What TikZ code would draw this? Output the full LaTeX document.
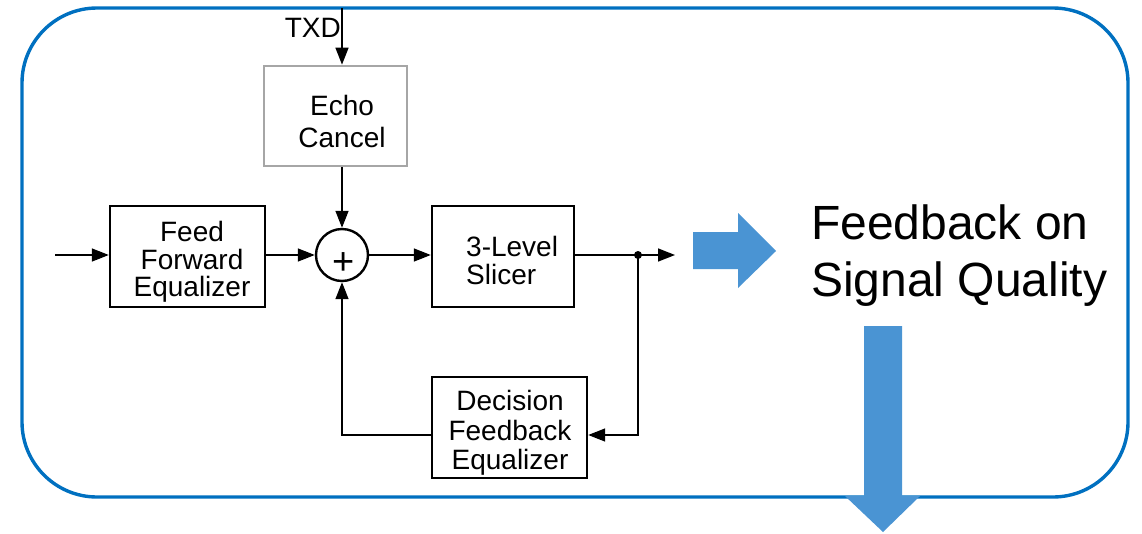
\documentclass[tikz,border=0pt]{standalone}
\usepackage{fontspec}
\setmainfont{Liberation Sans}
\usetikzlibrary{arrows.meta}

\definecolor{frameblue}{RGB}{0,112,192}
\definecolor{arrowblue}{RGB}{74,148,211}
\definecolor{boxgray}{RGB}{166,166,166}

\tikzset{
  blk/.style={draw=black, line width=2.4pt, minimum width=#1, inner sep=0pt},
  echoblk/.style={draw=boxgray, line width=2.7pt, inner sep=0pt},
  lbl/.style={inner sep=0pt, align=center, font=\fontsize{28}{28}\selectfont},
  wire/.style={line width=1.5pt},
  sig/.style={wire, -{Triangle[length=17pt,width=13pt]}},
  bigarrow/.style={fill=arrowblue, draw=none},
}

\begin{document}
\begin{tikzpicture}[x=1pt, y=-1pt]
\useasboundingbox (0,0) rectangle (1142,533);

% frame
\draw[frameblue, line width=3.4pt, rounded corners=75pt] (22,8) rectangle (1128,497);

% blocks
\node[echoblk, minimum width=143pt, minimum height=100pt] (echo) at (335.5,116) {};
\node[blk=155pt, minimum height=101pt] (ffe) at (187.5,256.5) {};
\node[blk=142pt, minimum height=101pt] (slicer) at (503,256.5) {};
\node[blk=155pt, minimum height=101pt] (dfe) at (509.5,427.5) {};
\node[draw=black, line width=2.4pt, circle, minimum size=52pt, inner sep=0pt] (sum) at (342,255) {};

% block texts
\node[lbl, anchor=base east] (txd) at (341,37) {TXD};
\node[lbl, font=\fontsize{28}{32}\selectfont] (echotext) at (342,121) {Echo\\Cancel};
\node[lbl, font=\fontsize{28}{27.5}\selectfont] (ffetext) at (192,262) {Feed\\Forward\\Equalizer};
\node[lbl, align=left, anchor=west] (slicertext) at (466,260) {3-Level\\Slicer};
\node[lbl, font=\fontsize{28}{29.5}\selectfont] (dfetext) at (510,433) {Decision\\Feedback\\Equalizer};
\node[inner sep=0pt, font=\fontsize{38}{38}\selectfont] (plus) at (344,264) {+};

% signal path
\coordinate (txdin) at (342,8);
\coordinate (rxin) at (55,255);
\coordinate (tap) at (638,255);
\coordinate (out) at (675,255);
\coordinate (fb) at (638,435);

\draw[sig] (txdin) -- (txdin |- echo.north);
\draw[sig] (echo.south -| sum) -- (sum.north);
\draw[sig] (rxin) -- (rxin -| ffe.west);
\draw[sig] (ffe.east |- sum) -- (sum.west);
\draw[sig] (sum.east) -- (sum -| slicer.west);
\draw[sig] (sum -| slicer.east) -- (out);
\fill (tap) circle (4pt);
\draw[sig] (tap) -- (fb) -- (fb -| dfe.east);
\draw[sig] (fb -| dfe.west) -| (sum.south);

% quality feedback
\draw[bigarrow] (693,232) -- (738,232) -- (738,213) -- (776,251) -- (738,288) -- (738,269) -- (693,269) -- cycle;
\node[lbl, align=left, anchor=west, font=\fontsize{48}{57}\selectfont] (quality) at (811,256) {Feedback on\\Signal Quality};
\draw[bigarrow] (864,326) -- (902,326) -- (902,496) -- (920,496) -- (883,532) -- (845,496) -- (864,496) -- cycle;
\end{tikzpicture}
\end{document}
